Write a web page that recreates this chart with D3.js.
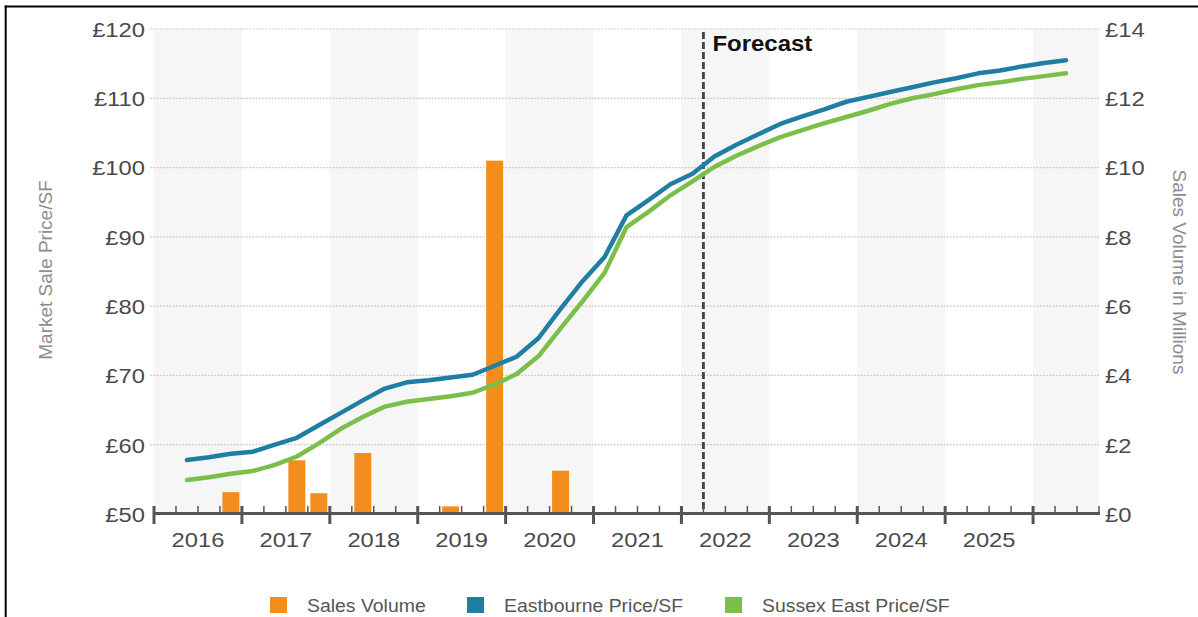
<!DOCTYPE html>
<html>
<head>
<meta charset="utf-8">
<script src="https://cdn.jsdelivr.net/npm/d3@7"></script>
<style>
  html, body { margin: 0; padding: 0; background: #fff; }
  svg { display: block; font-family: "Liberation Sans", Arial, sans-serif; }
</style>
</head>
<body>
<svg id="chart" width="1198" height="617"></svg>
<script>
// ---- data ----
const years = [2016, 2017, 2018, 2019, 2020, 2021, 2022, 2023, 2024, 2025, 2026];
const quarterNames = ["Q1", "Q2", "Q3", "Q4"];
// quarterly axis runs from 2016 Q1 through 2026 Q3
const quarters = years.flatMap(y => quarterNames.map(q => y + q)).slice(0, 43);
const yearLabels = ["2016", "2017", "2018", "2019", "2020", "2021", "2022", "2023", "2024", "2025"];

const leftTicks = [50, 60, 70, 80, 90, 100, 110, 120];
const rightTicks = [0, 2, 4, 6, 8, 10, 12, 14];

// price series, 2016 Q2 .. 2026 Q2
const priceQuarters = quarters.slice(1, 42);
const eastbourne = [57.8, 58.2, 58.7, 59.0, 60.0, 61.0, 62.8, 64.6, 66.4, 68.1, 69.0,
  69.3, 69.7, 70.1, 71.4, 72.7, 75.4, 79.6, 83.6, 87.1, 93.1, 95.3, 97.6, 99.1, 101.6,
  103.3, 104.8, 106.3, 107.4, 108.4, 109.5, 110.2, 110.9, 111.6, 112.3, 112.9, 113.6,
  114.0, 114.6, 115.1, 115.5];
const sussexEast = [54.9, 55.3, 55.8, 56.2, 57.1, 58.3, 60.2, 62.3, 64.0, 65.5, 66.2,
  66.6, 67.0, 67.5, 68.7, 70.2, 72.8, 76.8, 80.7, 84.8, 91.4, 93.6, 96.0, 98.0, 100.1,
  101.7, 103.1, 104.4, 105.4, 106.4, 107.3, 108.2, 109.2, 110.0, 110.6, 111.3, 111.9,
  112.3, 112.8, 113.2, 113.6];

// sales volume in £ millions
const salesQuarters = ["2016Q4", "2017Q3", "2017Q4", "2018Q2", "2019Q2", "2019Q4", "2020Q3"];
const salesVolume = [0.63, 1.55, 0.6, 1.76, 0.22, 10.2, 1.25];

const forecastStart = "2022Q2";

const colors = { sales: "#F28D1E", eastbourne: "#1F7EA1", sussex: "#7BBF4A" };
const legendItems = [
  { label: "Sales Volume", color: colors.sales, x: 270 },
  { label: "Eastbourne Price/SF", color: colors.eastbourne, x: 467 },
  { label: "Sussex East Price/SF", color: colors.sussex, x: 725 }
];

// ---- layout ----
const plotL = 154, plotR = 1099, plotT = 29, plotB = 514;
const svg = d3.select("#chart");

const x = d3.scaleBand().domain(quarters).range([plotL, plotR]).padding(0);
const bw = x.bandwidth();
const yL = d3.scaleLinear().domain([50, 120]).range([plotB, plotT]);
const yR = d3.scaleLinear().domain([0, 14]).range([plotB, plotT]);

// frame lines
svg.append("line").attr("x1", 4.7).attr("x2", 1198).attr("y1", 6.6).attr("y2", 6.6)
  .attr("stroke", "#000").attr("stroke-width", 2);
svg.append("line").attr("x1", 5.7).attr("x2", 5.7).attr("y1", 5.6).attr("y2", 617)
  .attr("stroke", "#000").attr("stroke-width", 2);

// alternating year shading
const shadeYears = years.filter((y, i) => i % 2 === 0);
svg.append("g").selectAll("rect").data(shadeYears).join("rect")
  .attr("x", y => x(y + "Q1"))
  .attr("width", y => {
    const qs = quarters.filter(q => q.startsWith(String(y)));
    return x(qs[qs.length - 1]) + bw - x(y + "Q1");
  })
  .attr("y", plotT).attr("height", plotB - plotT)
  .attr("fill", "#f6f6f6");

// dotted gridlines
svg.append("g").selectAll("line").data(leftTicks.slice(1)).join("line")
  .attr("x1", 150).attr("x2", plotR + 1)
  .attr("y1", d => yL(d)).attr("y2", d => yL(d))
  .attr("stroke", "#c2c2c2").attr("stroke-width", 1.2).attr("stroke-dasharray", "1.6,1.6");

// sales volume bars
const inset = 2.5;
svg.append("g").selectAll("rect").data(salesQuarters.map((q, i) => ({ q, v: salesVolume[i] })))
  .join("rect")
  .attr("x", d => x(d.q) + inset)
  .attr("width", bw - 2 * inset)
  .attr("y", d => yR(d.v))
  .attr("height", d => yR(0) - yR(d.v))
  .attr("fill", colors.sales);

// forecast divider
const fx = x(forecastStart);
svg.append("line").attr("x1", fx).attr("x2", fx).attr("y1", 32).attr("y2", plotB)
  .attr("stroke", "#444").attr("stroke-width", 2.8).attr("stroke-dasharray", "7,3");
svg.append("text").attr("transform", `translate(${fx + 9},50.5) scale(1.09,1)`)
  .attr("font-size", 22).attr("font-weight", "bold").attr("fill", "#111")
  .text("Forecast");

// price lines
const line = d3.line().x(d => x(d.q) + bw / 2).y(d => yL(d.v)).curve(d3.curveLinear);
[[eastbourne, colors.eastbourne], [sussexEast, colors.sussex]].forEach(([vals, c]) => {
  svg.append("path")
    .datum(priceQuarters.map((q, i) => ({ q, v: vals[i] })))
    .attr("d", line)
    .attr("fill", "none").attr("stroke", c).attr("stroke-width", 4.5)
    .attr("stroke-linejoin", "round").attr("stroke-linecap", "round");
});

// x axis: baseline, quarter ticks, year ticks
const xAxis = svg.append("g");
const xi = d3.scaleLinear().domain([0, quarters.length]).range([plotL, plotR]);
xAxis.append("line").attr("x1", plotL - 1).attr("x2", plotR + 1)
  .attr("y1", plotB - 0.5).attr("y2", plotB - 0.5)
  .attr("stroke", "#555").attr("stroke-width", 3);
xAxis.selectAll("line.minor").data(d3.range(0, quarters.length + 1).filter(i => i % 4 !== 0))
  .join("line").attr("class", "minor")
  .attr("x1", i => xi(i)).attr("x2", i => xi(i))
  .attr("y1", plotB - 8).attr("y2", plotB)
  .attr("stroke", "#555").attr("stroke-width", 1.5);
xAxis.selectAll("line.major").data(d3.range(0, quarters.length + 1).filter(i => i % 4 === 0))
  .join("line").attr("class", "major")
  .attr("x1", i => xi(i)).attr("x2", i => xi(i))
  .attr("y1", plotB - 8).attr("y2", plotB + 10)
  .attr("stroke", "#555").attr("stroke-width", 3);
xAxis.selectAll("text").data(yearLabels).join("text")
  .attr("transform", y => `translate(${x(y + "Q1") + 2 * bw},547) scale(1.13,1)`)
  .attr("text-anchor", "middle").attr("font-size", 21).attr("fill", "#4a4a4a")
  .text(d => d);

// y axes (labels only)
const sx = 1.16;
const leftAxis = svg.append("g").attr("transform", `translate(${plotL},0)`)
  .call(d3.axisLeft(yL).tickValues(leftTicks).tickFormat(d => "£" + d).tickSize(0).tickPadding(0));
leftAxis.select(".domain").remove();
leftAxis.selectAll("text")
  .attr("x", null).attr("dy", null)
  .attr("transform", `translate(-9,7.3) scale(${sx},1)`)
  .attr("font-size", 20.5).attr("font-family", "Liberation Sans, Arial, sans-serif")
  .attr("fill", "#4a4a4a");

const rightAxis = svg.append("g").attr("transform", `translate(${plotR},0)`)
  .call(d3.axisRight(yR).tickValues(rightTicks).tickFormat(d => "£" + d).tickSize(0).tickPadding(0));
rightAxis.select(".domain").remove();
rightAxis.selectAll("text")
  .attr("x", null).attr("dy", null)
  .attr("transform", `translate(6,7.3) scale(${sx},1)`)
  .attr("font-size", 20.5).attr("font-family", "Liberation Sans, Arial, sans-serif")
  .attr("fill", "#4a4a4a");

// axis titles
svg.append("text").attr("transform", `translate(52,270) rotate(-90)`)
  .attr("text-anchor", "middle").attr("font-size", 19).attr("fill", "#8c8c8c")
  .text("Market Sale Price/SF");
svg.append("text").attr("transform", `translate(1173,272) rotate(90)`)
  .attr("text-anchor", "middle").attr("font-size", 19).attr("fill", "#8c8c8c")
  .text("Sales Volume in Millions");

// legend
const legend = svg.append("g").selectAll("g").data(legendItems).join("g");
legend.append("rect").attr("x", d => d.x).attr("y", 597).attr("width", 17).attr("height", 16)
  .attr("fill", d => d.color);
legend.append("text")
  .attr("transform", d => `translate(${d.x + 37},611.5) scale(1.05,1)`)
  .attr("font-size", 18.5).attr("fill", "#555")
  .text(d => d.label);
</script>
</body>
</html>
